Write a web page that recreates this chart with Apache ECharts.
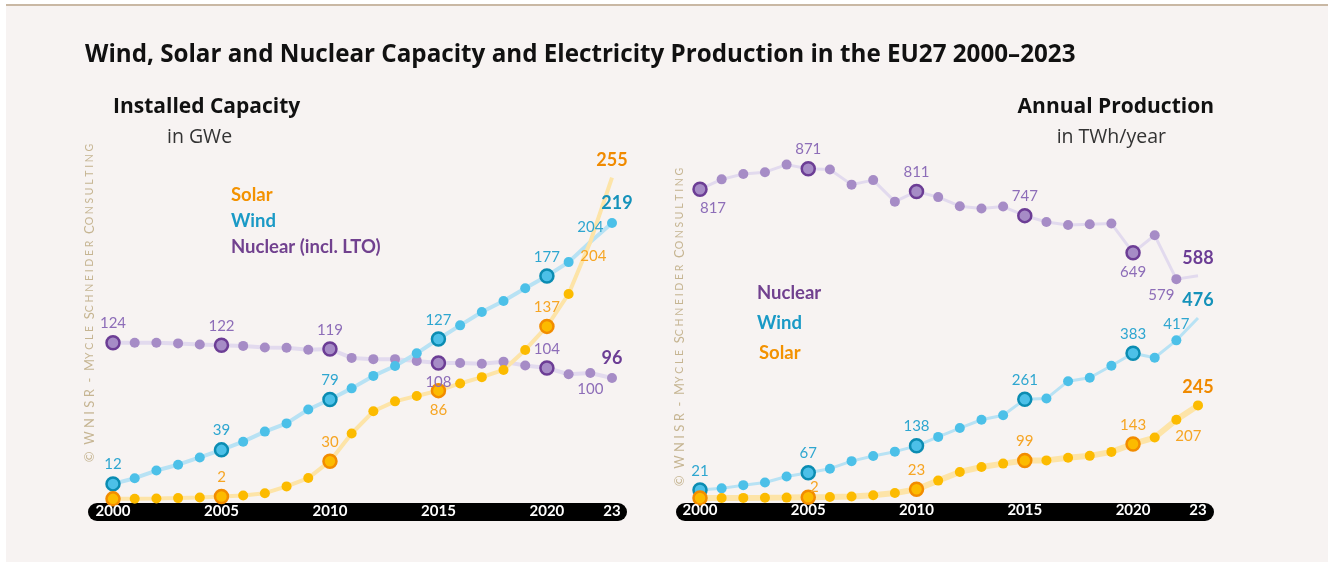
<!DOCTYPE html>
<html>
<head>
<meta charset="utf-8">
<script src="https://cdn.jsdelivr.net/npm/echarts@6/dist/echarts.min.js"></script>
<style>
  html, body { margin: 0; padding: 0; background: #fff; }
  #chart { width: 1328px; height: 562px; }
</style>
</head>
<body>
<div id="chart"></div>
<script>
// years 2000..2023
const years = ['2000','2001','2002','2003','2004','2005','2006','2007','2008','2009','2010','2011',
               '2012','2013','2014','2015','2016','2017','2018','2019','2020','2021','2022','2023'];

// installed capacity, GWe
const capNuclear = [124,124,124,123.5,122.6,122,121.5,120.2,120,118.5,119,112,111,111,109.6,108,108,107.4,109,106,104,99,100,96];
const capWind    = [12,16.5,22.6,27.2,33,39,45.5,53.5,60,71,79,87.8,97.7,105.6,115.6,127,137.8,148.4,157.2,167.2,177,188,204,219];
const capSolar   = [0.1,0.2,0.4,0.7,1.2,2,2.8,4.6,10,16.6,30,52,69.6,77.5,81.8,86,91.7,96.7,102.4,118.3,137,162.7,204,255];

// annual production, TWh/year
const prodNuclear = [817,843,857,862,882,871,869,829,841,784,811,796,772,766,771,747,730,722,724,726,649,695,579,588];
const prodWind    = [21,25.5,34,41,57,67,77.6,97.5,111,122.6,138,161.7,185,207,219,261,263,309,318,350,383,371,417,476];
const prodSolar   = [0.1,0.2,0.3,0.5,1,2,2.5,4,7.5,13,23,46,69,82,91,99,99.5,106.5,111.5,122,143,160,207,245];

const FONT = 'Lato, "Open Sans", sans-serif';
const HEAD = '"Open Sans", Lato, sans-serif';

const styles = {
  nuclear: { line: '#e2daee', fill: '#a68cc6', dark: '#6c3d95', text: '#8d6db8', bold: '#6c3d95' },
  wind:    { line: '#b8e2f4', fill: '#4cc0e8', dark: '#0b8cb2', text: '#2ea6d0', bold: '#1592ba' },
  solar:   { line: '#fde4a8', fill: '#fcbb00', dark: '#f28c00', text: '#f6a524', bold: '#f08a00' }
};

const keyYears = [0, 5, 10, 15, 20];

function buildData(values, st, labels, noDot) {
  return values.map((v, i) => {
    const d = { value: v };
    if (keyYears.includes(i)) {
      d.symbolSize = 13;
      d.itemStyle = { color: st.fill, borderColor: st.dark, borderWidth: 2.5 };
    }
    if (noDot.includes(i)) d.itemStyle = { color: 'rgba(0,0,0,0)', borderWidth: 0 };
    const lb = labels[i];
    if (lb) {
      d.label = {
        show: true,
        position: lb.pos,
        offset: lb.off || [0, 0],
        distance: 4,
        color: lb.bold ? st.bold : st.text,
        fontWeight: lb.bold ? 'bold' : 'normal',
        fontSize: lb.bold ? 18 : 15,
        fontFamily: FONT
      };
    }
    return d;
  });
}

function lineSeries(name, values, st, labels, noDot, axis, width) {
  return {
    name: name,
    type: 'line',
    xAxisIndex: axis,
    yAxisIndex: axis,
    symbol: 'circle',
    symbolSize: 10,
    lineStyle: { color: st.line, width: width || 4 },
    itemStyle: { color: st.fill },
    label: { show: false, formatter: p => Math.round(p.value) },
    emphasis: { disabled: true },
    silent: true,
    data: buildData(values, st, labels, noDot)
  };
}

function axisX(i) {
  return {
    type: 'category',
    gridIndex: i,
    data: years,
    boundaryGap: false,
    z: 5,
    axisLine: { show: false },
    axisTick: { show: false },
    splitLine: { show: false },
    axisLabel: {
      interval: idx => idx % 5 === 0 || idx === 23,
      formatter: v => v === '2023' ? '23' : v,
      color: '#fff',
      fontWeight: 'bold',
      fontSize: 15,
      fontFamily: FONT,
      margin: 5
    }
  };
}

function watermark(x, y) {
  return {
    type: 'text', x: x, y: y, rotation: Math.PI / 2, z: -5,
    style: {
      text: '©  W N I S R  -  M{s|Y C L E}  S{s|C H N E I D E R}  C{s|O N S U L T I N G}',
      fontSize: 13, fontFamily: FONT, fill: '#c6b592',
      align: 'center', verticalAlign: 'middle',
      rich: { s: { fontSize: 10.5, fontFamily: FONT, fill: '#c6b592' } }
    }
  };
}

function txt(text, x, y, size, weight, color, align, family) {
  return {
    type: 'text', x: x, y: y,
    style: { text: text, fontSize: size, fontWeight: weight, fontFamily: family || HEAD, fill: color,
             align: align || 'left', verticalAlign: 'middle' }
  };
}

const chart = echarts.init(document.getElementById('chart'));

chart.setOption({
  animation: false,
  backgroundColor: '#fff',
  grid: [
    { left: 113, right: 716, top: 121, bottom: 63 },
    { left: 700, right: 130, top: 120, bottom: 64 }
  ],
  xAxis: [axisX(0), axisX(1)],
  yAxis: [
    { type: 'value', gridIndex: 0, min: 0, max: 300, show: false },
    { type: 'value', gridIndex: 1, min: 0, max: 1000, show: false }
  ],
  graphic: [
    { type: 'rect', z: -20, shape: { x: 6, y: 6, width: 1322, height: 556 }, style: { fill: '#f7f3f2' } },
    { type: 'rect', z: -20, shape: { x: 6, y: 4, width: 1322, height: 2 }, style: { fill: '#c9b8a4' } },
    { type: 'rect', z: -10, shape: { x: 88, y: 503, width: 539, height: 18, r: 9 }, style: { fill: '#000' } },
    { type: 'rect', z: -10, shape: { x: 676, y: 503, width: 538, height: 18, r: 9 }, style: { fill: '#000' } },
    txt('Wind, Solar and Nuclear Capacity and Electricity Production in the EU27 2000–2023', 85, 55, 24.2, 'bold', '#111'),
    txt('Installed Capacity', 113, 107, 21, 'bold', '#111'),
    txt('in GWe', 167, 137, 19.5, 'normal', '#333'),
    txt('Annual Production', 1214, 107, 21, 'bold', '#111', 'right'),
    txt('in TWh/year', 1166, 137, 19.5, 'normal', '#333', 'right'),
    txt('Solar', 231, 195, 18.5, 'bold', '#f39200', 'left', FONT),
    txt('Wind', 231, 221, 18.5, 'bold', '#1a9ac6', 'left', FONT),
    txt('Nuclear (incl. LTO)', 231, 247, 18.5, 'bold', '#71418f', 'left', FONT),
    txt('Nuclear', 757, 293, 18.5, 'bold', '#71418f', 'left', FONT),
    txt('Wind', 757, 323, 18.5, 'bold', '#1a9ac6', 'left', FONT),
    txt('Solar', 759, 353, 18.5, 'bold', '#f39200', 'left', FONT),
    watermark(90, 303),
    watermark(680, 327)
  ],
  series: [
    lineSeries('Nuclear (incl. LTO)', capNuclear, styles.nuclear, {
      0: { pos: 'top' }, 5: { pos: 'top' }, 10: { pos: 'top' }, 15: { pos: 'bottom' },
      20: { pos: 'top' }, 22: { pos: 'bottom' }, 23: { pos: 'top', bold: true, off: [0, -2] }
    }, [], 0),
    lineSeries('Wind', capWind, styles.wind, {
      0: { pos: 'top' }, 5: { pos: 'top' }, 10: { pos: 'top' }, 15: { pos: 'top' },
      20: { pos: 'top' }, 22: { pos: 'top', off: [0, 2] }, 23: { pos: 'top', bold: true, off: [5, -2] }
    }, [22], 0),
    lineSeries('Solar', capSolar, styles.solar, {
      5: { pos: 'top' }, 10: { pos: 'top' }, 15: { pos: 'bottom' },
      20: { pos: 'top' }, 22: { pos: 'bottom', off: [3, -2] }, 23: { pos: 'top', bold: true }
    }, [22, 23], 0),
    lineSeries('Nuclear', prodNuclear, styles.nuclear, {
      0: { pos: 'bottom', off: [13, 0] }, 5: { pos: 'top' }, 10: { pos: 'top' }, 15: { pos: 'top' },
      20: { pos: 'bottom' }, 22: { pos: 'bottom', off: [-15, 0] }, 23: { pos: 'top', bold: true, off: [0, 0] }
    }, [23], 1, 3),
    lineSeries('Wind ', prodWind, styles.wind, {
      0: { pos: 'top' }, 5: { pos: 'top' }, 10: { pos: 'top' }, 15: { pos: 'top' },
      20: { pos: 'top' }, 22: { pos: 'top' }, 23: { pos: 'top', bold: true, off: [0, 0] }
    }, [23], 1, 3),
    lineSeries('Solar ', prodSolar, styles.solar, {
      5: { pos: 'top', off: [6, 9] }, 10: { pos: 'top' }, 15: { pos: 'top' },
      20: { pos: 'top' }, 22: { pos: 'bottom', off: [12, 0] }, 23: { pos: 'top', bold: true }
    }, [], 1, 6)
  ]
});
</script>
</body>
</html>
